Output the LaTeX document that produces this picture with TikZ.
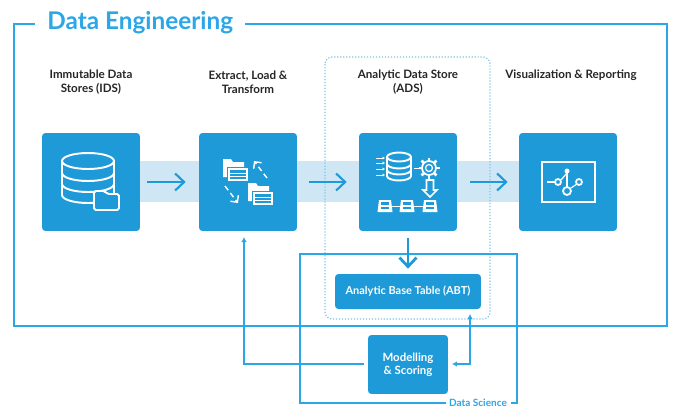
\documentclass[tikz,border=0pt]{standalone}
\usepackage{fontspec}
\setmainfont{Lato}
\usetikzlibrary{arrows.meta}

\definecolor{boxblue}{HTML}{1E9AD8}
\definecolor{bandblue}{HTML}{CFE6F5}
\definecolor{framblue}{HTML}{2BA6E6}
\definecolor{dotblue}{HTML}{7FC6E6}
\definecolor{headtext}{HTML}{262626}

\tikzset{
  bigbox/.style={fill=boxblue,rounded corners=2pt,minimum size=1.96cm,inner sep=0pt},
  smallbox/.style={fill=boxblue,rounded corners=2pt,inner sep=0pt,text=white,align=center,font=\fontsize{6.5}{7.6}\selectfont\bfseries},
  heading/.style={text=headtext,align=center,font=\fontsize{6.6}{8}\selectfont\bfseries},
  flow/.style={-{Straight Barb[length=1.8mm,width=3.4mm]},line width=1.2pt,boxblue},
  thinflow/.style={{Latex[length=1mm,width=1.1mm]}-,line width=0.7pt,framblue},
  frameline/.style={line width=0.8pt,framblue},
  icon/.style={white,line width=0.7pt}
}

% one folder with a small sheet in front of it
\newcommand{\folderdoc}[2]{
  \begin{scope}[shift={(#1,#2)}]
    \fill[white] (0,0) -- (8,0) -- (10,3) -- (21,3) -- (21,18) -- (0,18) -- cycle;
    \fill[boxblue] (3.5,8) rectangle (26,23);
    \fill[white] (5,9) rectangle (25,22);
    \fill[boxblue] (7,11) rectangle (23,13.5);
    \fill[boxblue] (7,15) rectangle (23,16.5);
    \fill[boxblue] (7,18) rectangle (23,20);
  \end{scope}
}

% one small table of the store icon
\newcommand{\tableicon}[2]{
  \begin{scope}[shift={(#1,#2)}]
    \fill[white] (-6,-6) -- (6,-6) -- (7.5,6) -- (-7.5,6) -- cycle;
    \fill[boxblue] (-3.8,-3.8) rectangle (3.8,-0.8);
    \fill[boxblue] (-4,0.8) rectangle (4,3.2);
  \end{scope}
}

\begin{document}
\begin{tikzpicture}[x=0.02cm,y=-0.02cm]
  \useasboundingbox (0,0) rectangle (680,416);
  \fill[white] (0,0) rectangle (680,416);

  % Light band behind the boxes
  \fill[bandblue] (140,161) rectangle (520,202);

  % Main boxes
  \node[bigbox] (ids) at (91,182) {};
  \node[bigbox] (elt) at (248,182) {};
  \node[bigbox] (ads) at (408,182) {};
  \node[bigbox] (viz) at (568,182) {};
  \node[smallbox,font=\fontsize{6.25}{8}\selectfont\bfseries,minimum width=2.92cm,minimum height=0.7cm] (abt) at (408,291.5) {Analytic Base Table (ABT)};
  \node[smallbox,minimum width=1.6cm,minimum height=1.18cm] (model) at (408,364.5) {Modelling\\\& Scoring};

  % Headings
  \node[heading] (idshead) at (91,82) {Immutable Data\\Stores (IDS)};
  \node[heading] (elthead) at (248,82) {Extract, Load \&\\Transform};
  \node[heading] (adshead) at (408,82) {Analytic Data Store\\(ADS)};
  \node[heading] (vizhead) at (571,75) {Visualization \& Reporting};

  % Data Engineering frame
  \node[text=framblue,font=\fontsize{13.85}{16}\selectfont\bfseries,anchor=west,inner sep=0pt] (dehead) at (47,23) {Data Engineering};
  \draw[frameline] (35,24) -- (14,24) -- (14,326) -- (667,326) -- (667,24) -- (245,24);

  % Analytic data store outline
  \draw[dotblue,densely dotted,line width=0.7pt,rounded corners=4pt] (325,57) rectangle (490,319);

  % Data Science frame
  \node[text=framblue,font=\fontsize{5.7}{8}\selectfont\bfseries] (dshead) at (478,403) {Data Science};
  \draw[frameline] (446,403) -- (300,403) -- (300,254) -- (517,254) -- (517,403) -- (511,403);

  % Arrows between the boxes
  \draw[flow,shorten <=0.14cm,shorten >=0.26cm] (ids) -- (elt);
  \draw[flow,shorten <=0.24cm,shorten >=0.24cm] (elt) -- (ads);
  \draw[flow,shorten <=0.26cm,shorten >=0.22cm] (ads) -- (viz);
  \draw[flow,line width=1.6pt,shorten <=0.14cm,shorten >=0.1cm] (ads) -- (abt);

  % Feedback lines
  \coordinate (backup) at (244,237);
  \coordinate (backleft) at (364,364);
  \coordinate (abtin) at (470,314);
  \coordinate (modelin) at (452,364);
  \draw[thinflow] (backup) -- (backup |- backleft) -- (backleft);
  \draw[thinflow,{Latex[length=1mm,width=1.1mm]}-{Latex[length=1mm,width=1.1mm]}] (abtin) -- (abtin |- modelin) -- (modelin);

  % Icon: database with folder
  \draw[icon,line width=1.1pt] (62,161) -- (62,195) arc (180:0:26 and 8) -- (114,161);
  \draw[icon,line width=1.1pt] (88,161) ellipse [x radius=26,y radius=8];
  \draw[icon,line width=1.1pt] (62,173) arc (180:0:26 and 8);
  \draw[icon,line width=1.1pt] (62,184) arc (180:0:26 and 8);
  \draw[icon,line width=1.1pt,fill=boxblue,rounded corners=1pt] (94,210) -- (94,191) -- (105,191) -- (107,194) -- (119,194) -- (119,210) -- cycle;

  % Icon: folders and dashed arrows
  \folderdoc{223}{159}
  \folderdoc{248}{183}
  \draw[icon,line width=0.8pt,densely dashed,-{Straight Barb[length=1mm,width=2mm]}] (267,178) -- (254,161);
  \draw[icon,line width=0.8pt,densely dashed,-{Straight Barb[length=1mm,width=2mm]}] (225,186) -- (238,203);

  % Icon: store with gear and tables
  \foreach \yy in {158,163,169,175}{
    \draw[icon,line width=0.5pt,-{Latex[length=0.5mm,width=0.7mm]}] (376,\yy) -- (385,\yy);
  }
  \draw[icon,line width=1.1pt] (387,157) -- (387,176) arc (180:0:12 and 4.5) -- (411,157);
  \draw[icon,line width=1.1pt] (399,157) ellipse [x radius=12,y radius=4.5];
  \draw[icon,line width=1.1pt] (387,164) arc (180:0:12 and 4.5);
  \draw[icon,line width=1.1pt] (387,170) arc (180:0:12 and 4.5);
  \draw[icon,line width=0.5pt] (414,168) -- (420,168);
  \foreach \aa in {0,45,...,315}{
    \draw[white,line width=1.6pt] (429,168) ++(\aa:7) -- ++(\aa:3.5);
  }
  \draw[icon,line width=1pt] (429,168) circle (7);
  \draw[icon] (429,168) circle (3.5);
  \draw[icon,line width=1pt,line join=miter] (426.5,180) -- (433.5,180) -- (433.5,190) -- (437,190) -- (430,197) -- (423,190) -- (426.5,190) -- cycle;
  \tableicon{385}{206}
  \tableicon{407}{206}
  \tableicon{430}{206}
  \draw[icon,line width=0.5pt] (392,206) -- (400,206);
  \draw[icon,line width=0.5pt] (414,206) -- (423,206);

  % Icon: chart with linked points
  \draw[icon,line width=1.1pt] (542,162) rectangle (595,202);
  \draw[icon] (547,182) -- (555,182);
  \draw[icon] (567,171) -- (567,187);
  \draw[icon] (561,180) -- (567,173);
  \draw[icon] (571,188) -- (577,184);
  \fill[white] (567,171) circle (2.5);
  \draw[icon,line width=1pt] (558,182) circle (3);
  \draw[icon,line width=1pt] (567,191) circle (4);
  \draw[icon,line width=1pt] (579,182) circle (3);
\end{tikzpicture}
\end{document}
